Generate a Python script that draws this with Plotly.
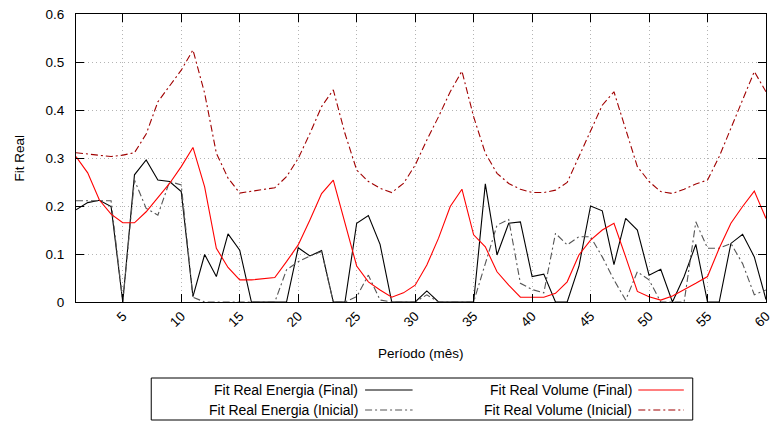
import plotly.graph_objects as go

periods = list(range(1, 61))

energia_final = [0.192, 0.207, 0.212, 0.199, 0.0, 0.265, 0.296, 0.254, 0.251, 0.230,
                 0.011, 0.099, 0.053, 0.142, 0.108, 0.0, 0.0, 0.0, 0.0, 0.113,
                 0.096, 0.107, 0.0, 0.0, 0.164, 0.180, 0.120, 0.0, 0.0, 0.0,
                 0.023, 0.0, 0.0, 0.0, 0.0, 0.246, 0.098, 0.164, 0.167, 0.053,
                 0.058, 0.0, 0.0, 0.074, 0.200, 0.190, 0.078, 0.174, 0.150, 0.056,
                 0.068, 0.0, 0.053, 0.120, 0.0, 0.0, 0.122, 0.141, 0.094, 0.005]

energia_inicial = [0.211, 0.211, 0.211, 0.211, 0.0, 0.254, 0.195, 0.181, 0.251, 0.244,
                   0.010, 0.0, 0.0, 0.0, 0.0, 0.0, 0.0, 0.0, 0.067, 0.084,
                   0.096, 0.105, 0.0, 0.0, 0.011, 0.056, 0.004, 0.0, 0.0, 0.0,
                   0.015, 0.0, 0.0, 0.0, 0.0, 0.080, 0.160, 0.172, 0.039, 0.026,
                   0.019, 0.143, 0.119, 0.136, 0.136, 0.094, 0.046, 0.004, 0.063, 0.046,
                   0.0, 0.0, 0.0, 0.167, 0.112, 0.112, 0.122, 0.080, 0.015, 0.025]

volume_final = [0.303, 0.269, 0.2125, 0.183, 0.165, 0.165, 0.188, 0.217, 0.247, 0.282,
                0.322, 0.240, 0.112, 0.072, 0.046, 0.046, 0.048, 0.051, 0.084, 0.119,
                0.171, 0.226, 0.254, 0.164, 0.075, 0.042, 0.025, 0.010, 0.019, 0.035,
                0.077, 0.133, 0.199, 0.235, 0.140, 0.115, 0.063, 0.035, 0.010, 0.010,
                0.010, 0.018, 0.042, 0.098, 0.129, 0.150, 0.164, 0.094, 0.022, 0.011,
                0.004, 0.0125, 0.025, 0.039, 0.053, 0.112, 0.164, 0.199, 0.231, 0.174]

volume_inicial = [0.311, 0.308, 0.305, 0.303, 0.306, 0.311, 0.350, 0.417, 0.450, 0.483,
                  0.525, 0.435, 0.310, 0.258, 0.227, 0.231, 0.235, 0.238, 0.261, 0.299,
                  0.351, 0.407, 0.442, 0.351, 0.275, 0.251, 0.237, 0.228, 0.247, 0.285,
                  0.3375, 0.386, 0.438, 0.481, 0.386, 0.310, 0.268, 0.247, 0.235, 0.228,
                  0.228, 0.233, 0.249, 0.303, 0.355, 0.410, 0.438, 0.358, 0.282, 0.251,
                  0.230, 0.226, 0.235, 0.246, 0.254, 0.303, 0.3625, 0.421, 0.480, 0.438]

series_names = ["Fit Real Energia (Final)", "Fit Real Energia (Inicial)",
                "Fit Real Volume (Final)", "Fit Real Volume (Inicial)"]
x_ticks = [5, 10, 15, 20, 25, 30, 35, 40, 45, 50, 55, 60]
x_tick_labels = ["5", "10", "15", "20", "25", "30", "35", "40", "45", "50", "55", "60"]
y_ticks = [0, 0.1, 0.2, 0.3, 0.4, 0.5, 0.6]
y_tick_labels = ["0", "0.1", "0.2", "0.3", "0.4", "0.5", "0.6"]

colors = ["#000000", "#555555", "#ff0000", "#a00000"]
dashes = ["solid", "7px,3px,2px,3px", "solid", "7px,3px,2px,3px"]
series_values = [energia_final, energia_inicial, volume_final, volume_inicial]

FONT = "Liberation Sans, Arial, sans-serif"

fig = go.Figure()
for name, vals, c, d in zip(series_names, series_values, colors, dashes):
    fig.add_trace(go.Scatter(x=periods, y=vals, mode="lines", name=name,
                             line=dict(color=c, width=1.1, dash=d),
                             showlegend=False))

# plot area in pixels: left 76, right 773, top 14, bottom 302
L, R, T, B = 76, 773, 14, 302
W, H = R - L, B - T


def px(x):
    return (x - L) / W


def py(y):
    return (B - y) / H


shapes = [dict(type="rect", xref="paper", yref="paper",
               x0=px(152), x1=px(699), y0=py(420), y1=py(378),
               line=dict(color="black", width=1), layer="above")]
annotations = []
legend_pos = [(363, 368, 416, 390), (363, 368, 416, 410),
              (640, 644, 690, 390), (640, 644, 690, 410)]
for (tx, sx0, sx1, yy), name, c, d in zip(legend_pos, series_names, colors, dashes):
    annotations.append(dict(xref="paper", yref="paper", x=px(tx), y=py(yy),
                            text=name, showarrow=False, xanchor="right",
                            yanchor="middle", font=dict(size=14, color="black", family=FONT)))
    shapes.append(dict(type="line", xref="paper", yref="paper",
                       x0=px(sx0), x1=px(sx1), y0=py(yy), y1=py(yy),
                       line=dict(color=c, width=1.1, dash=d)))

annotations.append(dict(xref="paper", yref="paper", x=0.5, y=py(353),
                        text="Período (mês)", showarrow=False, xanchor="center",
                        yanchor="middle", font=dict(size=13.5, color="black", family=FONT)))
annotations.append(dict(xref="paper", yref="paper", x=px(18), y=0.5,
                        text="Fit Real", showarrow=False, textangle=-90,
                        xanchor="center", yanchor="middle",
                        font=dict(size=13.5, color="black", family=FONT)))

fig.update_layout(
    width=775, height=422,
    margin=dict(l=L, r=775 - R, t=T, b=422 - B),
    paper_bgcolor="white", plot_bgcolor="white",
    font=dict(family=FONT, size=13, color="black"),
    shapes=shapes, annotations=annotations,
)
fig.update_xaxes(range=[1, 60.0005], tickvals=x_ticks, ticktext=x_tick_labels, tickangle=-45,
                 ticks="inside", ticklen=8, tickcolor="black", ticklabeloverflow="allow",
                 showline=True, linecolor="black", linewidth=1, mirror="ticks",
                 showgrid=True, gridcolor="#b4b4b4", gridwidth=1, griddash="1px,3px",
                 zeroline=False, tickfont=dict(size=13.5, family=FONT))
fig.update_yaxes(range=[0, 0.6], tickvals=y_ticks, ticktext=y_tick_labels,
                 ticks="inside", ticklen=8, tickcolor="black", ticklabelstandoff=8,
                 showline=True, linecolor="black", linewidth=1, mirror="ticks",
                 showgrid=True, gridcolor="#b4b4b4", gridwidth=1, griddash="1px,3px",
                 zeroline=False, tickfont=dict(size=13.5, family=FONT))

fig.write_html("out.html", config={"displayModeBar": False},
               post_script="document.body.style.margin='0';document.body.style.overflow='hidden';")
